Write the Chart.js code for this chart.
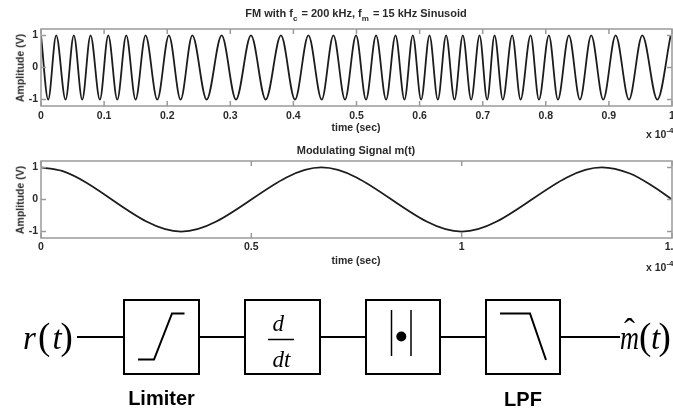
<!DOCTYPE html>
<html>
<head>
<meta charset="utf-8">
<script src="https://cdn.jsdelivr.net/npm/chart.js@4.4.1/dist/chart.umd.min.js"></script>
<style>
  html, body { margin: 0; padding: 0; background: #fff; }
  body { width: 673px; height: 408px; overflow: hidden; position: relative;
         font-family: 'Liberation Sans', Arial, sans-serif; }
  .plot { position: absolute; left: 0; width: 700px; }
  .lbl { position: absolute; font-weight: bold; color: #2a2a2a; white-space: nowrap;
         line-height: 1; transform: translate(-50%, -50%); }
  .ttl { font-size: 11px; }
  .axl { font-size: 10.5px; }
  .ylab { font-size: 10.5px; transform: translate(-50%, -50%) rotate(-90deg); }
  .sub { font-size: 8px; position: relative; top: 4px; margin: 0 1px 0 0; }
  .exp { position: absolute; font-weight: bold; font-size: 10.5px; color: #2a2a2a;
         white-space: nowrap; line-height: 1; }
  .exp sup { font-size: 8px; position: relative; top: -2px; vertical-align: top; }
  svg.diagram { position: absolute; left: 0; top: 0; pointer-events: none; }
</style>
</head>
<body>

<!-- top: FM waveform -->
<div class="plot" style="top:0; height:125px;"><canvas id="fm-canvas"></canvas></div>
<div class="lbl ttl" style="left:356px; top:13px;">FM with f<span class="sub">c</span> = 200 kHz, f<span class="sub">m</span> = 15 kHz Sinusoid</div>
<div class="lbl ylab" style="left:20px; top:68px;">Amplitude (V)</div>
<div class="lbl axl" style="left:356px; top:127px;">time (sec)</div>
<div class="exp" style="left:646px; top:129px;">x 10<sup>-4</sup></div>

<!-- middle: modulating signal -->
<div class="plot" style="top:140px; height:118px;"><canvas id="msg-canvas"></canvas></div>
<div class="lbl ttl" style="left:356px; top:150px;">Modulating Signal m(t)</div>
<div class="lbl ylab" style="left:20px; top:200px;">Amplitude (V)</div>
<div class="lbl axl" style="left:356px; top:260px;">time (sec)</div>
<div class="exp" style="left:646px; top:262px;">x 10<sup>-4</sup></div>

<!-- bottom: demodulator block diagram -->
<svg class="diagram" width="673" height="408" viewBox="0 0 673 408">
  <g stroke="#000" stroke-width="2" fill="none">
    <line x1="77" y1="337" x2="124" y2="337"/>
    <rect x="124" y="300" width="75" height="74"/>
    <line x1="199" y1="337" x2="245" y2="337"/>
    <rect x="245" y="300" width="75" height="74"/>
    <line x1="320" y1="337" x2="366" y2="337"/>
    <rect x="366" y="300" width="74" height="74"/>
    <line x1="440" y1="337" x2="486" y2="337"/>
    <rect x="486" y="300" width="74" height="74"/>
    <line x1="560" y1="337" x2="620" y2="337"/>
    <!-- limiter curve -->
    <polyline points="138,359.5 154,359.5 172,313.5 184.5,313.5"/>
    <!-- LPF response -->
    <polyline points="500,313.5 530,313.5 546,360"/>
    <!-- |.| -->
    <line x1="391.5" y1="310" x2="391.5" y2="356" stroke-width="1.5"/>
    <line x1="411" y1="310" x2="411" y2="356" stroke-width="1.5"/>
    <!-- d/dt bar -->
    <line x1="268" y1="339.5" x2="294" y2="339.5" stroke-width="1.5"/>
  </g>
  <circle cx="401.3" cy="336.5" r="5" fill="#000"/>
  <g font-family="'Liberation Serif', 'Times New Roman', serif" fill="#000">
    <text x="23" y="348.5" font-size="33" font-style="italic">r</text>
    <text x="38" y="348.5" font-size="37">(</text>
    <text x="52.5" y="348.5" font-size="33" font-style="italic">t</text>
    <text x="60.5" y="348.5" font-size="37">)</text>
    <text x="278.3" y="330.5" font-size="23" font-style="italic" text-anchor="middle">d</text>
    <text x="281.5" y="367" font-size="23" font-style="italic" text-anchor="middle">dt</text>
    <text x="620" y="348.5" font-size="33" font-style="italic" textLength="19" lengthAdjust="spacingAndGlyphs">m</text>
    <text x="629.5" y="341.5" font-size="33" text-anchor="middle">ˆ</text>
    <text x="639" y="348.5" font-size="37">(</text>
    <text x="651" y="348.5" font-size="33" font-style="italic">t</text>
    <text x="658.5" y="348.5" font-size="37">)</text>
  </g>
  <g font-family="'Liberation Sans', Arial, sans-serif" font-weight="bold" font-size="20" fill="#000" text-anchor="middle">
    <text x="161.5" y="405">Limiter</text>
    <text x="523" y="405.5">LPF</text>
  </g>
</svg>

<script>
// ─────────────────────────────────────────────────────────────
// DATA  (time in units of 1e-4 s)
// ─────────────────────────────────────────────────────────────
// FM waveform: times of the successive peaks / troughs
const fmTime = [
  0, 0.0114, 0.0241, 0.0389, 0.0520, 0.0653, 0.0785, 0.0933, 0.1066, 0.1209,
  0.1351, 0.1499, 0.1657, 0.1843, 0.2027, 0.2212, 0.2398, 0.2625, 0.2863, 0.3090,
  0.3328, 0.3561, 0.3803, 0.4025, 0.4238, 0.4449, 0.4634, 0.4818, 0.4993, 0.5151,
  0.5310, 0.5469, 0.5618, 0.5760, 0.5892, 0.6024, 0.6157, 0.6289, 0.6420, 0.6553,
  0.6685, 0.6817, 0.6950, 0.7071, 0.7188, 0.7319, 0.7467, 0.7600, 0.7759, 0.7891,
  0.8049, 0.8192, 0.8366, 0.8541, 0.8720, 0.8910, 0.9107, 0.9318, 0.9529, 0.9767,
  0.9979
];
const fmAmp = [
  1, -1, 1, -1, 1, -1, 1, -1, 1, -1,
  1, -1, 1, -1, 1, -1, 1, -1, 1, -1,
  1, -1, 1, -1, 1, -1, 1, -1, 1, -1,
  1, -1, 1, -1, 1, -1, 1, -1, 1, -1,
  1, -1, 1, -1, 1, -1, 1, -1, 1, -1,
  1, -1, 1, -1, 1, -1, 1, -1, 1, -1,
  1
];

// modulating signal m(t)
const msgTime = [0, 0.05, 0.3333, 0.6667, 1.0, 1.3333, 1.40, 1.45, 1.5];
const msgAmp  = [1, 0.89, -1, 1, -1, 1, 0.81, 0.45, 0];

// ticks
const fmTickValues  = [0, 0.1, 0.2, 0.3, 0.4, 0.5, 0.6, 0.7, 0.8, 0.9, 1];
const fmTickLabels  = ['0', '0.1', '0.2', '0.3', '0.4', '0.5', '0.6', '0.7', '0.8', '0.9', '1'];
const msgTickValues = [0, 0.5, 1, 1.5];
const msgTickLabels = ['0', '0.5', '1', '1.5'];
const ampTicks      = [-1, 0, 1];
const ampLabels     = ['-1', '0', '1'];

// ─────────────────────────────────────────────────────────────
// STYLE
// ─────────────────────────────────────────────────────────────
const LINE_COLOR  = '#1c1c1c';
const FRAME_COLOR = '#9a9a9a';
const TEXT_COLOR  = '#2a2a2a';
const TICK_LEN    = 5;
const tickFont = { family: "'Liberation Sans', Arial, sans-serif", size: 10.5, weight: 'bold' };

// MATLAB-like box with inward ticks on all four sides
const framePlugin = {
  id: 'matlabFrame',
  afterDatasetsDraw(chart) {
    const { ctx, chartArea: a, scales: { x, y } } = chart;
    ctx.save();
    ctx.strokeStyle = FRAME_COLOR;
    ctx.lineWidth = 1.5;
    ctx.strokeRect(a.left, a.top, a.width, a.height);
    ctx.beginPath();
    x.ticks.forEach(t => {
      const px = x.getPixelForValue(t.value);
      ctx.moveTo(px, a.bottom); ctx.lineTo(px, a.bottom - TICK_LEN);
      ctx.moveTo(px, a.top);    ctx.lineTo(px, a.top + TICK_LEN);
    });
    y.ticks.forEach(t => {
      const py = y.getPixelForValue(t.value);
      ctx.moveTo(a.left, py);  ctx.lineTo(a.left + TICK_LEN, py);
      ctx.moveTo(a.right, py); ctx.lineTo(a.right - TICK_LEN, py);
    });
    ctx.stroke();
    ctx.restore();
  }
};

function buildChart(canvasId, times, amps, xMax, xTicks, xLabels, padTop, xHeight, xPad) {
  const points = times.map((t, i) => ({ x: t, y: amps[i] }));
  return new Chart(document.getElementById(canvasId), {
    type: 'line',
    data: {
      datasets: [{
        data: points,
        borderColor: LINE_COLOR,
        borderWidth: 1.8,
        pointRadius: 0,
        fill: false,
        cubicInterpolationMode: 'monotone',
      }]
    },
    options: {
      responsive: true,
      maintainAspectRatio: false,
      animation: false,
      devicePixelRatio: 1,
      layout: { padding: { top: padTop, right: 28, bottom: 0, left: 0 } },
      plugins: { legend: { display: false }, tooltip: { enabled: false } },
      scales: {
        x: {
          type: 'linear',
          min: 0, max: xMax,
          grid: { display: false, drawTicks: false },
          border: { display: false },
          afterBuildTicks: s => { s.ticks = xTicks.map(v => ({ value: v })); },
          afterFit: s => { s.height = xHeight; },
          ticks: {
            autoSkip: false, maxRotation: 0, padding: xPad,
            color: TEXT_COLOR, font: tickFont,
            callback: (v, i) => xLabels[i],
          },
        },
        y: {
          min: -1.2, max: 1.2,
          grid: { display: false, drawTicks: false },
          border: { display: false },
          afterBuildTicks: s => { s.ticks = ampTicks.map(v => ({ value: v })); },
          afterFit: s => { s.width = 41; },
          ticks: {
            padding: 3,
            color: TEXT_COLOR, font: tickFont,
            callback: (v, i) => ampLabels[i],
          },
        }
      }
    },
    plugins: [framePlugin]
  });
}

buildChart('fm-canvas',  fmTime,  fmAmp,  1,   fmTickValues,  fmTickLabels,  29, 19, 4);
buildChart('msg-canvas', msgTime, msgAmp, 1.5, msgTickValues, msgTickLabels, 21, 20, 3);
</script>
</body>
</html>
